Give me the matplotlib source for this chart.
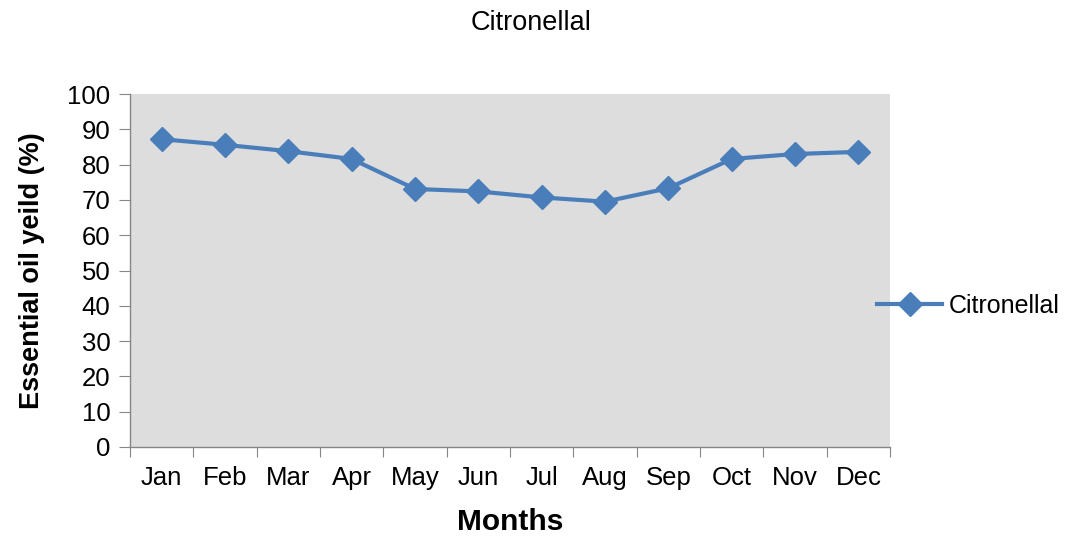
import matplotlib
matplotlib.use("Agg")
import matplotlib.pyplot as plt
import numpy as np

plt.rcParams['font.family'] = ['Liberation Sans', 'DejaVu Sans']

months = ["Jan", "Feb", "Mar", "Apr", "May", "Jun", "Jul", "Aug", "Sep", "Oct", "Nov", "Dec"]
citronellal = [87.2, 85.6, 83.8, 81.6, 73.1, 72.4, 70.7, 69.5, 73.3, 81.6, 83.0, 83.6]
yticks = list(range(0, 101, 10))

fig = plt.figure(figsize=(10.74, 5.37), dpi=100)
ax = fig.add_axes([130/1074, 1-447/537, 760/1074, 353/537])
ax.set_facecolor("#DDDDDD")

x = np.arange(len(months))
line, = ax.plot(x, citronellal, color="#4A7EBB", lw=3.0, marker="D", markersize=12.5,
                markerfacecolor="#4A7EBB", markeredgecolor="#4A7EBB", label="Citronellal")

ax.set_xlim(-0.5, len(months) - 0.5)
ax.set_ylim(0, 100)
ax.set_yticks(yticks)
ax.set_yticklabels([str(v) for v in yticks], fontsize=18.5)

ax.set_xticks(np.arange(-0.5, len(months), 1.0))
ax.set_xticklabels([])
ax.set_xticks(x, minor=True)
ax.set_xticklabels(months, minor=True, fontsize=18.5)
ax.tick_params(axis='x', which='minor', length=0, pad=14)
ax.tick_params(axis='x', which='major', length=7, color="#868686", direction='out')
ax.tick_params(axis='y', length=8, color="#868686", direction='out', pad=6)

for s in ["top", "right"]:
    ax.spines[s].set_visible(False)
for s in ["left", "bottom"]:
    ax.spines[s].set_color("#868686")
    ax.spines[s].set_linewidth(1.0)

ax.set_ylabel("Essential oil yeild (%)", fontsize=19.5, fontweight="bold", labelpad=16)
ax.set_xlabel("Months", fontsize=21.5, fontweight="bold", labelpad=13)
fig.text(531/1074, 1-23/537, "Citronellal", fontsize=19.5, ha="center", va="center")

leg = fig.legend(handles=[line], loc="center left", bbox_to_anchor=(877/1074, 1-306/537),
                 frameon=False, fontsize=18, handlelength=2.6, handletextpad=0.25,
                 borderaxespad=0, borderpad=0)

fig.savefig("out.png", dpi=100)
